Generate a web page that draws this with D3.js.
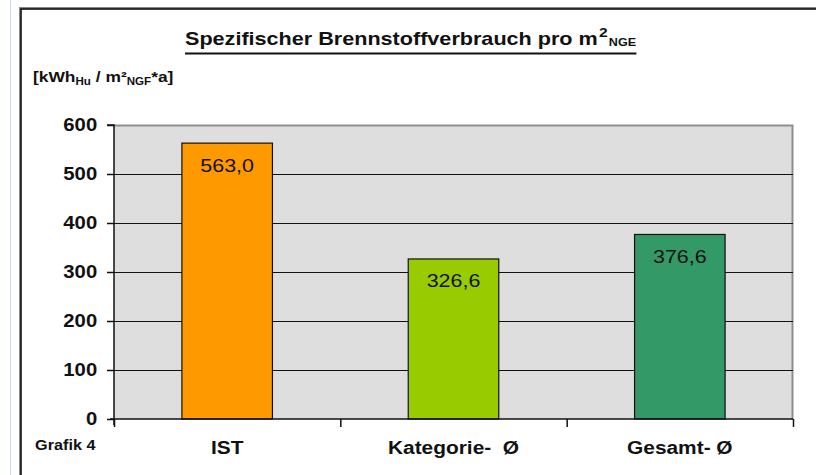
<!DOCTYPE html>
<html>
<head>
<meta charset="utf-8">
<script src="https://cdn.jsdelivr.net/npm/d3@7"></script>
<style>
  html, body { margin: 0; padding: 0; background: #fff; }
  svg { display: block; }
  text { font-family: "Liberation Sans", Arial, sans-serif; fill: #111; }
</style>
</head>
<body>
<svg id="chart" width="816" height="475"></svg>
<script>
const categories = ["IST", "Kategorie-  Ø", "Gesamt- Ø"];
const values = [563.0, 326.6, 376.6];
const barColors = ["#ff9900", "#99cc00", "#339966"];
const yTicks = [0, 100, 200, 300, 400, 500, 600];
const gridTicks = [100, 200, 300, 400, 500];
const titleMain = "Spezifischer Brennstoffverbrauch pro m";
const titleSup = "2";
const titleSub = "NGE";
const footnote = "Grafik 4";

const SX = 1.16; // horizontal stretch of the glyphs in the reference
const svg = d3.select("#chart");

const plot = { left: 114, right: 793, top: 125, bottom: 419 };

const x = d3.scaleBand().domain(categories).range([plot.left, plot.right])
  .paddingInner(0.6).paddingOuter(0.3);
const y = d3.scaleLinear().domain([0, 600]).range([plot.bottom, plot.top]);
const xEdges = d3.scaleLinear().domain([0, categories.length]).range([plot.left, plot.right]);

const de = d3.formatLocale({decimal: ",", thousands: ".", grouping: [3], currency: ["", "€"]});
const fmt1 = de.format(".1f");

// page decoration
svg.append("line").attr("x1", 10.5).attr("x2", 10.5).attr("y1", 0).attr("y2", 475)
  .attr("stroke", "#c9d8ec").attr("stroke-width", 1);
svg.append("rect").attr("x", 20.5).attr("y", 8.5).attr("width", 900).attr("height", 600)
  .attr("fill", "#fff").attr("stroke", "#888").attr("stroke-width", 3);
svg.append("rect").attr("x", 21).attr("y", 9).attr("width", 900).attr("height", 600)
  .attr("fill", "#fff").attr("stroke", "#111").attr("stroke-width", 1.6);

// title
const title = svg.append("text")
  .attr("transform", `translate(185,45) scale(1.2,1)`)
  .style("font-weight", "bold").style("font-size", "18px");
title.append("tspan").text(titleMain);
title.append("tspan").attr("dy", -8).attr("dx", 1).style("font-size", "13px").text(titleSup);
title.append("tspan").attr("dy", 9).attr("dx", 1).style("font-size", "10.5px").text(titleSub);
const tb = title.node().getBoundingClientRect();
svg.append("line").attr("x1", tb.left).attr("x2", tb.right).attr("y1", 53.5).attr("y2", 53.5)
  .attr("stroke", "#111").attr("stroke-width", 2.2);

// unit label
const unit = svg.append("text")
  .attr("transform", `translate(33,82) scale(${SX},1)`)
  .style("font-weight", "bold").style("font-size", "15px");
unit.append("tspan").text("[kWh");
unit.append("tspan").attr("dy", 3).style("font-size", "10px").text("Hu");
unit.append("tspan").attr("dy", -3).text(" / m²");
unit.append("tspan").attr("dy", 3).style("font-size", "10px").text("NGF");
unit.append("tspan").attr("dy", -3).text("*a]");

// plot area
svg.append("rect").attr("x", plot.left).attr("y", plot.top)
  .attr("width", plot.right - plot.left).attr("height", plot.bottom - plot.top)
  .attr("fill", "#dedede");
svg.append("path")
  .attr("d", `M${plot.left},${plot.top + 0.5}H${plot.right - 0.5}V${plot.bottom}`)
  .attr("fill", "none").attr("stroke", "#8e8e8e").attr("stroke-width", 2);

// gridlines
svg.append("g").selectAll("line").data(gridTicks).join("line")
  .attr("x1", plot.left).attr("x2", plot.right)
  .attr("y1", d => Math.round(y(d)) + 0.5).attr("y2", d => Math.round(y(d)) + 0.5)
  .attr("stroke", "#111").attr("stroke-width", 1.2);

// bars
svg.append("g").selectAll("rect").data(values).join("rect")
  .attr("x", (d, i) => x(categories[i]))
  .attr("y", d => y(d))
  .attr("width", x.bandwidth())
  .attr("height", d => y(0) - y(d))
  .attr("fill", (d, i) => barColors[i])
  .attr("stroke", "#111").attr("stroke-width", 1.2);

// data labels
svg.append("g").selectAll("text").data(values).join("text")
  .attr("transform", (d, i) => `translate(${x(categories[i]) + x.bandwidth() / 2},${y(d) + 28.5}) scale(${SX},1)`)
  .attr("text-anchor", "middle")
  .style("font-size", "18.5px")
  .text(d => fmt1(d));

// y axis
const yAxis = svg.append("g").attr("transform", `translate(${plot.left},0)`)
  .call(d3.axisLeft(y).tickValues(yTicks).tickSize(7).tickPadding(7.5).tickFormat(d3.format("d")));
yAxis.select(".domain").attr("stroke", "#111").attr("stroke-width", 1.5)
  .attr("d", `M-7,${plot.top}H0V${plot.bottom + 6}`);
yAxis.selectAll(".tick line").attr("stroke", "#111").attr("stroke-width", 1.5);
yAxis.selectAll(".tick text")
  .attr("transform", `scale(${SX},1)`)
  .style("font-size", "17.5px").style("font-weight", "bold")
  .style("font-family", "'Liberation Sans', Arial, sans-serif").attr("fill", "#111");

// x axis (category separators)
const xAxis = svg.append("g").attr("transform", `translate(0,${plot.bottom})`)
  .call(d3.axisBottom(xEdges).ticks(categories.length).tickSize(8).tickFormat(""));
xAxis.select(".domain").attr("stroke", "#111").attr("stroke-width", 1.5)
  .attr("d", `M${plot.left - 4},0H${plot.right}`);
xAxis.selectAll(".tick line").attr("stroke", "#111").attr("stroke-width", 1.5);

// category labels
svg.append("g").selectAll("text").data(categories).join("text")
  .attr("transform", d => `translate(${x(d) + x.bandwidth() / 2},454) scale(${SX},1)`)
  .attr("text-anchor", "middle")
  .attr("xml:space", "preserve")
  .style("white-space", "pre")
  .style("font-size", "18px").style("font-weight", "bold")
  .text(d => d);

// footnote
svg.append("text")
  .attr("transform", `translate(35,450) scale(${SX},1)`)
  .style("font-size", "14px").style("font-weight", "bold")
  .text(footnote);
</script>
</body>
</html>
